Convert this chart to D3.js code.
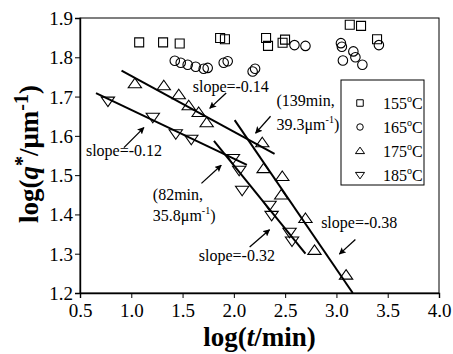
<!DOCTYPE html>
<html>
<head>
<meta charset="utf-8">
<script src="https://cdn.jsdelivr.net/npm/d3@7"></script>
<style>
  body { margin: 0; background: #fff; }
  text { font-family: "Liberation Serif", "Times New Roman", serif; }
</style>
</head>
<body>
<script>
/* chart size and plot area */
var width = 453, height = 354;
var margin = {left: 80, top: 18, right: 14, bottom: 61};
var plotW = width - margin.left - margin.right;
var plotH = height - margin.top - margin.bottom;

/* data: [log t, log q*] */
var series155 = [[1.077,1.838],[1.31,1.838],[1.472,1.835],[1.866,1.849],[1.913,1.846],
  [2.314,1.849],[2.333,1.829],[2.499,1.845],[2.475,1.837],[3.13,1.883],[3.24,1.880],[3.396,1.846]];
var series165 = [[1.424,1.791],[1.482,1.786],[1.550,1.781],[1.628,1.776],[1.706,1.771],[1.745,1.773],
  [1.901,1.786],[1.940,1.790],[2.183,1.764],[2.207,1.771],[2.591,1.831],[2.698,1.829],[3.044,1.836],
  [3.053,1.827],[3.063,1.792],[3.165,1.815],[3.185,1.800],[3.253,1.781],[3.414,1.831]];
var series175 = [[1.035,1.732],[1.317,1.727],[1.463,1.704],[1.560,1.676],[1.657,1.659],[1.735,1.633],
  [2.277,1.582],[2.290,1.516],[2.472,1.496],[2.462,1.449],[2.698,1.389],[2.786,1.308],[3.094,1.245]];
var series185 = [[0.772,1.689],[1.210,1.648],[1.434,1.606],[1.585,1.592],[1.991,1.543],[2.052,1.513],
  [2.081,1.462],[2.348,1.424],[2.368,1.398],[2.543,1.355],[2.567,1.333]];

var legendLabels = ["155", "165", "175", "185"];
var shapes = ["square", "circle", "up", "down"];

/* fitted lines, end points in data units */
var fitLines = [
  [[0.905,1.766],[2.397,1.554]],
  [[2.008,1.640],[3.159,1.200]],
  [[0.656,1.709],[2.127,1.526]],
  [[1.806,1.587],[2.698,1.300]]
];

/* annotations: text lines (left, baseline) and arrows (tail -> head) */
var notes = [
  {lines: ["slope=-0.14"], x: 1.599, y: [1.712], arrow: [[1.925,1.709],[1.765,1.670]]},
  {lines: ["slope=-0.12"], x: 0.558, y: [1.549], arrow: [[0.928,1.570],[1.123,1.621]]},
  {lines: ["(139min,", "39.3\u03bcm"], x: 2.416, y: [1.676, 1.615], arrow: [[2.358,1.650],[2.212,1.607]]},
  {lines: ["(82min,", "35.8\u03bcm"], x: 1.210, y: [1.436, 1.383], arrow: [[1.684,1.479],[1.877,1.525]]},
  {lines: ["slope=-0.32"], x: 1.658, y: [1.281], arrow: [[2.154,1.317],[2.348,1.361]]},
  {lines: ["slope=-0.38"], x: 2.851, y: [1.365], arrow: [[3.185,1.336],[3.029,1.299]]}
];

var xTicks = [0.5,1.0,1.5,2.0,2.5,3.0,3.5,4.0];
var yTicks = [1.2,1.3,1.4,1.5,1.6,1.7,1.8,1.9];

var x = d3.scaleLinear().domain([0.5, 4.0]).range([0, plotW]);
var y = d3.scaleLinear().domain([1.2, 1.9]).range([plotH, 0]);

var svg = d3.select("body").append("svg")
  .attr("width", width).attr("height", height);

var defs = svg.append("defs");
defs.append("marker")
  .attr("id", "head")
  .attr("viewBox", "0 0 10 10")
  .attr("refX", 9).attr("refY", 5)
  .attr("markerWidth", 7).attr("markerHeight", 7)
  .attr("markerUnits", "userSpaceOnUse")
  .attr("orient", "auto")
  .append("path").attr("d", "M0,0 L10,5 L0,10 L2,5 Z").attr("fill", "#000");

var g = svg.append("g")
  .attr("transform", "translate(" + margin.left + "," + margin.top + ")");

/* frame */
g.append("rect")
  .attr("width", plotW).attr("height", plotH)
  .attr("fill", "none").attr("stroke", "#000").attr("stroke-width", 1);

/* axes with minor ticks */
var xAxis = g.append("g").attr("transform", "translate(0," + plotH + ")");
xAxis.call(d3.axisBottom(x).tickValues(d3.range(0.5, 4.01, 0.25)).tickSize(3).tickFormat(""));
xAxis.call(d3.axisBottom(x).tickValues(xTicks).tickSize(5).tickFormat(d3.format(".1f")));
xAxis.selectAll("path").attr("stroke-width", 1.4);
xAxis.selectAll("text").attr("font-size", 19).attr("dy", "0.85em")
  .style("font-family", "Liberation Serif");

var yAxis = g.append("g");
yAxis.call(d3.axisLeft(y).tickValues(d3.range(1.2, 1.901, 0.05)).tickSize(3).tickFormat(""));
yAxis.call(d3.axisLeft(y).tickValues(yTicks).tickSize(5).tickFormat(d3.format(".1f")));
yAxis.selectAll("path").attr("stroke-width", 1.4);
yAxis.selectAll("text").attr("font-size", 19).attr("x", -7).attr("dy", "0.34em")
  .style("font-family", "Liberation Serif");
svg.selectAll(".domain").attr("stroke", "#000");

/* marker shapes */
function shapePath(type, s) {
  if (type === "square") return "M" + (-s/2) + "," + (-s/2) + "h" + s + "v" + s + "h" + (-s) + "Z";
  if (type === "circle") {
    var r = s / 2;
    return "M" + (-r) + ",0a" + r + "," + r + " 0 1,0 " + (2*r) + ",0a" + r + "," + r + " 0 1,0 " + (-2*r) + ",0Z";
  }
  var w = s * 1.4, h = s;
  if (type === "up") return "M0," + (-h*0.6) + "L" + (w/2) + "," + (h*0.4) + "L" + (-w/2) + "," + (h*0.4) + "Z";
  return "M0," + (h*0.6) + "L" + (w/2) + "," + (-h*0.4) + "L" + (-w/2) + "," + (-h*0.4) + "Z";
}

/* fitted lines */
g.selectAll(".fit")
  .data(fitLines)
  .enter().append("path")
  .attr("class", "fit")
  .attr("d", d3.line().x(function(d) { return x(d[0]); }).y(function(d) { return y(d[1]); }))
  .attr("stroke", "#000").attr("stroke-width", 2).attr("fill", "none");

/* data points */
var allSeries = [series155, series165, series175, series185];
var sizes = [9, 9.5, 9.5, 9.5];
allSeries.forEach(function(data, i) {
  g.selectAll(".pt" + i)
    .data(data)
    .enter().append("path")
    .attr("class", "pt" + i)
    .attr("transform", function(d) { return "translate(" + x(d[0]) + "," + y(d[1]) + ")"; })
    .attr("d", shapePath(shapes[i], sizes[i]))
    .attr("fill", "none").attr("stroke", "#000").attr("stroke-width", 1.1);
});

/* annotations */
notes.forEach(function(n) {
  n.lines.forEach(function(line, k) {
    var t = g.append("text")
      .attr("x", x(n.x)).attr("y", y(n.y[k]))
      .attr("font-size", 16)
      .text(line);
    if (k === 1) {
      t.append("tspan").attr("font-size", 10).attr("dy", -7).text("-1");
      t.append("tspan").attr("dy", 7).text(")");
    }
  });
  g.append("line")
    .attr("x1", x(n.arrow[0][0])).attr("y1", y(n.arrow[0][1]))
    .attr("x2", x(n.arrow[1][0])).attr("y2", y(n.arrow[1][1]))
    .attr("stroke", "#000").attr("stroke-width", 1.3)
    .attr("marker-end", "url(#head)");
});

/* legend */
var legend = svg.append("g").attr("transform", "translate(341,80)");
legend.append("rect")
  .attr("width", 83).attr("height", 105)
  .attr("fill", "#fff").attr("stroke", "#000").attr("stroke-width", 1);
var item = legend.selectAll(".item")
  .data(legendLabels)
  .enter().append("g")
  .attr("transform", function(d, i) { return "translate(0," + (23 + i * 24) + ")"; });
item.append("path")
  .attr("transform", "translate(19,0)")
  .attr("d", function(d, i) { return shapePath(shapes[i], 6.5); })
  .attr("fill", "none").attr("stroke", "#000").attr("stroke-width", 1);
var lt = item.append("text").attr("x", 42).attr("y", 6).attr("font-size", 16);
lt.append("tspan").text(function(d) { return d; });
lt.append("tspan").attr("font-size", 10).attr("dy", -7).text("o");
lt.append("tspan").attr("dy", 7).text("C");

/* axis titles */
svg.append("text")
  .attr("x", margin.left + plotW / 2).attr("y", 346)
  .attr("text-anchor", "middle")
  .attr("font-size", 27).attr("font-weight", "bold")
  .call(function(t) {
    t.append("tspan").text("log(");
    t.append("tspan").attr("font-style", "italic").text("t");
    t.append("tspan").text("/min)");
  });

svg.append("text")
  .attr("transform", "translate(38,154) rotate(-90)")
  .attr("text-anchor", "middle")
  .attr("font-size", 27).attr("font-weight", "bold")
  .call(function(t) {
    t.append("tspan").text("log(");
    t.append("tspan").attr("font-style", "italic").text("q");
    t.append("tspan").attr("font-size", 20).attr("dy", -9).text("*");
    t.append("tspan").attr("dy", 9).text("/\u03bcm");
    t.append("tspan").attr("font-size", 20).attr("dy", -10).text("-1");
    t.append("tspan").attr("dy", 10).text(")");
  });
</script>
</body>
</html>
